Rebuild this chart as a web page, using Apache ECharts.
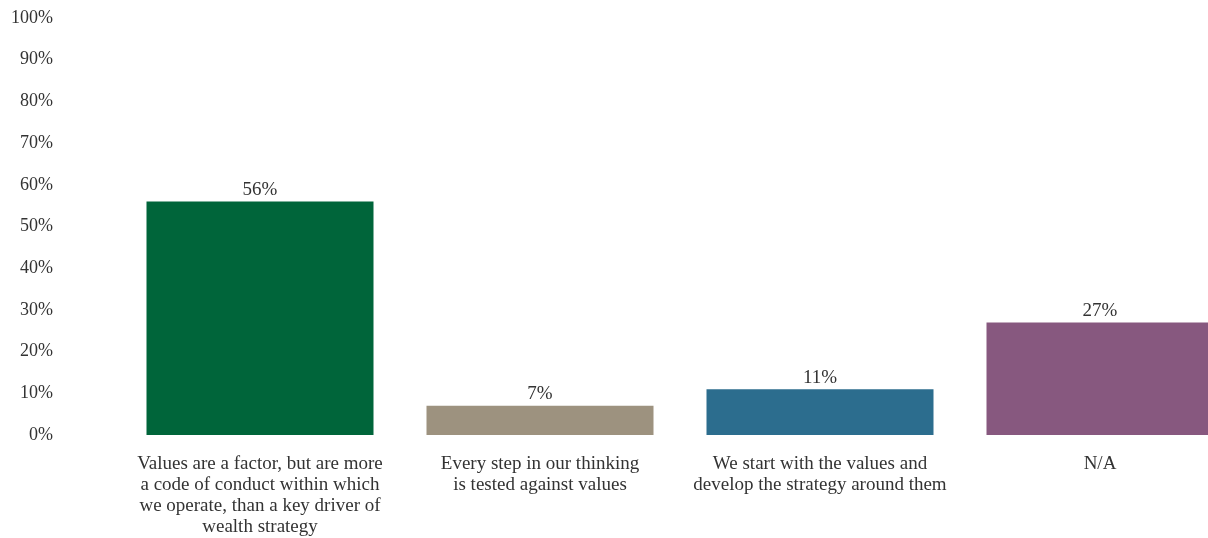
<!DOCTYPE html>
<html>
<head>
<meta charset="utf-8">
<script src="https://cdn.jsdelivr.net/npm/echarts@6/dist/echarts.min.js"></script>
<style>
  html, body { margin: 0; padding: 0; background: #ffffff; }
  #chart { width: 1208px; height: 538px; }
</style>
</head>
<body>
<div id="chart"></div>
<script>
// Survey answers: how values shape wealth strategy
const categories = [
  'Values are a factor, but are more\na code of conduct within which\nwe operate, than a key driver of\nwealth strategy',
  'Every step in our thinking\nis tested against values',
  'We start with the values and\ndevelop the strategy around them',
  'N/A'
];
const shares = [56, 7, 11, 27];
const barColors = ['#00653a', '#9d927f', '#2c6d8e', '#87587f'];

const serif = '"Liberation Serif", "DejaVu Serif", serif';
const chart = echarts.init(document.getElementById('chart'));

chart.setOption({
  animation: false,
  backgroundColor: '#ffffff',
  // the last column runs past the right edge of the canvas
  grid: {
    left: 120, top: 18, right: -32, bottom: 103,
    containLabel: false,
    outerBoundsMode: 'none'
  },
  xAxis: {
    type: 'category',
    data: categories,
    axisLine: { show: false },
    axisTick: { show: false },
    axisLabel: {
      interval: 0,
      margin: 19,
      color: '#333333',
      fontFamily: serif,
      fontSize: 19,
      lineHeight: 21,
      align: 'center'
    }
  },
  yAxis: {
    type: 'value',
    min: 0,
    max: 100,
    interval: 10,
    splitLine: { show: false },
    axisLine: { show: false },
    axisTick: { show: false },
    axisLabel: {
      margin: 67,
      color: '#333333',
      fontFamily: serif,
      fontSize: 18,
      formatter: '{value}%'
    }
  },
  series: [{
    type: 'bar',
    barWidth: 227,
    data: shares.map((v, i) => ({ value: v, itemStyle: { color: barColors[i] } })),
    label: {
      show: true,
      position: 'top',
      distance: 2,
      color: '#333333',
      fontFamily: serif,
      fontSize: 19,
      formatter: '{c}%'
    }
  }]
});
</script>
</body>
</html>
